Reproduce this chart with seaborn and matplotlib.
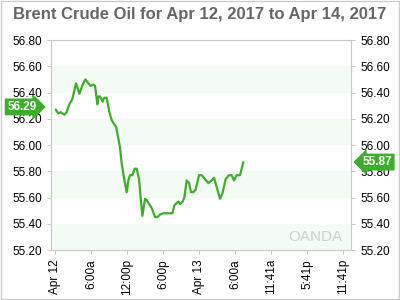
import matplotlib
matplotlib.use("Agg")
import matplotlib.pyplot as plt
import seaborn as sns
import pandas as pd
from matplotlib.patches import Rectangle

title = "Brent Crude Oil for Apr 12, 2017 to Apr 14, 2017"
hours = [0.11, 0.56, 0.94, 1.28, 1.56, 1.94, 2.39, 2.89, 3.5, 4.06, 4.61, 5.06, 5.56, 5.94,
         6.39, 6.67, 7.06, 7.22, 7.5, 7.94, 8.17, 8.61, 9.06, 9.44, 9.83, 10.17, 10.56, 10.83,
         11.11, 11.5, 11.94, 12.22, 12.5, 12.89, 13.28, 13.61, 14.0, 14.33, 14.56, 15.0, 15.28,
         16.11, 16.67, 17.06, 17.5, 18.06, 18.89, 19.56, 19.89, 20.56, 20.83, 21.28, 21.56,
         21.94, 22.33, 22.67, 23.06, 23.44, 24.0, 24.44, 25.0, 25.56, 26.11, 26.5, 26.94, 27.5,
         27.89, 28.44, 29.0, 29.44, 29.83, 30.28, 30.83, 31.39]
prices = [56.27, 56.24, 56.25, 56.24, 56.23, 56.25, 56.31, 56.35, 56.47, 56.39, 56.46, 56.50,
          56.47, 56.45, 56.46, 56.45, 56.31, 56.37, 56.37, 56.33, 56.36, 56.36, 56.25, 56.19,
          56.16, 56.14, 56.05, 55.98, 55.86, 55.75, 55.64, 55.73, 55.77, 55.77, 55.82, 55.82,
          55.74, 55.57, 55.46, 55.59, 55.58, 55.52, 55.45, 55.45, 55.47, 55.48, 55.48, 55.48,
          55.54, 55.57, 55.55, 55.57, 55.60, 55.73, 55.71, 55.64, 55.64, 55.66, 55.77, 55.77,
          55.74, 55.71, 55.73, 55.75, 55.68, 55.59, 55.63, 55.74, 55.77, 55.77, 55.73, 55.77,
          55.77, 55.87]
xtick_pos = [0, 6, 12, 18, 24, 30, 36, 42, 48]
xtick_labels = ["Apr 12", "6:00a", "12:00p", "6:00p", "Apr 13", "6:00a", "11:41a", "5:41p", "11:41p"]
ytick_vals = [55.20, 55.40, 55.60, 55.80, 56.00, 56.20, 56.40, 56.60, 56.80]
bands = [(55.2, 55.4), (55.6, 55.8), (56.0, 56.2), (56.4, 56.6)]
open_label = "56.29"
open_value = 56.29
last_label = "55.87"
last_value = 55.87

sns.set_style("white")
plt.rcParams['font.family'] = ['Liberation Sans', 'DejaVu Sans']

green = "#3dae2b"
df = pd.DataFrame({"hour": hours, "price": prices})

fig = plt.figure(figsize=(4, 3), dpi=100)
ax = fig.add_axes([51/400, 1-250/300, 300/400, 210/300])
for lo, hi in bands:
    ax.axhspan(lo, hi, color="#f4faf4", lw=0, zorder=0)
sns.lineplot(data=df, x="hour", y="price", ax=ax, color=green, lw=1.6)
ax.set_xlim(-0.67, 49.33)
ax.set_ylim(55.2, 56.8)
ax.set_xticks(xtick_pos)
ax.set_xticklabels(xtick_labels, rotation=90)
ax.set_yticks(ytick_vals)
ax.set_yticklabels([f"{v:.2f}" for v in ytick_vals])
ax.tick_params(axis="both", labelsize=8.5, colors="black", length=3, width=0.6,
               left=True, right=True, labelright=True, bottom=True, direction="out")
ax.tick_params(axis="both", color="#bbbbbb")
ax.set_xlabel("")
ax.set_ylabel("")
for s in ax.spines.values():
    s.set_color("#c8c8c8")
    s.set_linewidth(0.8)

fig.text(0.5, 1-14/300, title, ha="center", va="center", fontsize=12,
         fontweight="bold", color="#666666")

ax.annotate(open_label, xy=(0, open_value), xycoords=("axes fraction", "data"),
            xytext=(-21, 0), textcoords="offset points", ha="center", va="center",
            fontsize=8.5, fontweight="bold", color="white",
            bbox=dict(boxstyle="rarrow,pad=0.15", fc=green, ec=green))
ax.annotate(last_label, xy=(1, last_value), xycoords=("axes fraction", "data"),
            xytext=(19, 0), textcoords="offset points", ha="center", va="center",
            fontsize=8.5, fontweight="bold", color="white",
            bbox=dict(boxstyle="larrow,pad=0.15", fc=green, ec=green))

ax.text(0.97, 0.06, "OANDA", transform=ax.transAxes, ha="right", va="center",
        fontsize=11, color="#d0d0d0")

fig.patches.append(Rectangle((0.002, 0.003), 0.995, 0.994, transform=fig.transFigure,
                             fill=False, ec="#cccccc", lw=1))
fig.savefig("out.png", dpi=100)
